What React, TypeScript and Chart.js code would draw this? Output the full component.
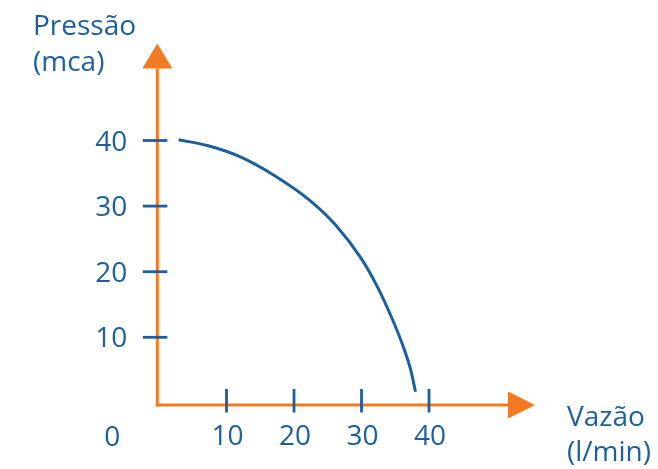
import React, { useEffect, useRef } from "react";
import { Chart, registerables } from "chart.js";

Chart.register(...registerables);

// Data
const flowValues = [2.9, 7.3, 12.3, 17.2, 22.2, 26.1, 29.9, 32.3, 34.3, 36.0, 37.3, 38.0];
const pressureValues = [40.1, 39.2, 37.4, 34.6, 31.0, 27.2, 22.1, 17.8, 13.4, 9.1, 5.0, 1.7];
const xTicks = [10, 20, 30, 40];
const yTicks = [10, 20, 30, 40];
const yTitle = ["Pressão", "(mca)"];
const xTitle = ["Vazão", "(l/min)"];
const originLabel = "0";

const BLUE = "#1d5e9d";
const ORANGE = "#f47a22";
const FONT = '"Open Sans", "Noto Sans", sans-serif';

const axesPlugin = {
  id: "customAxes",
  beforeDatasetsDraw(chart: any) {
    const ctx = chart.ctx as CanvasRenderingContext2D;
    const xs = chart.scales.x;
    const ys = chart.scales.y;
    const axisX = xs.getPixelForValue(0) - 1.7;
    const axisY = ys.getPixelForValue(0) + 2.1;
    const yTop = ys.getPixelForValue(40);
    const xRight = xs.getPixelForValue(40);

    ctx.save();
    // orange axes
    ctx.strokeStyle = ORANGE;
    ctx.fillStyle = ORANGE;
    ctx.lineWidth = 3;
    ctx.lineCap = "butt";
    ctx.beginPath();
    ctx.moveTo(axisX, axisY + 1.5);
    ctx.lineTo(axisX, yTop - 72);
    ctx.stroke();
    ctx.beginPath();
    ctx.moveTo(axisX - 1.5, axisY);
    ctx.lineTo(xRight + 80, axisY);
    ctx.stroke();
    // arrow heads
    ctx.beginPath();
    ctx.moveTo(axisX - 15, yTop - 72);
    ctx.lineTo(axisX + 15, yTop - 72);
    ctx.lineTo(axisX, yTop - 97);
    ctx.closePath();
    ctx.fill();
    ctx.beginPath();
    ctx.moveTo(xRight + 79, axisY - 13.5);
    ctx.lineTo(xRight + 79, axisY + 13.5);
    ctx.lineTo(xRight + 106, axisY);
    ctx.closePath();
    ctx.fill();

    // blue tick marks
    ctx.strokeStyle = BLUE;
    ctx.lineWidth = 2.8;
    xTicks.forEach((v) => {
      const px = xs.getPixelForValue(v);
      ctx.beginPath();
      ctx.moveTo(px, axisY - 16);
      ctx.lineTo(px, axisY + 7.5);
      ctx.stroke();
    });
    yTicks.forEach((v) => {
      const py = ys.getPixelForValue(v);
      ctx.beginPath();
      ctx.moveTo(axisX - 14.5, py);
      ctx.lineTo(axisX + 10, py);
      ctx.stroke();
    });

    // labels
    ctx.fillStyle = BLUE;
    ctx.font = `28px ${FONT}`;
    ctx.textBaseline = "alphabetic";
    ctx.textAlign = "center";
    xTicks.forEach((v) => {
      ctx.fillText(String(v), xs.getPixelForValue(v) + 1, axisY + 40);
    });
    ctx.fillText(originLabel, axisX - 45, axisY + 41);
    ctx.textAlign = "right";
    yTicks.forEach((v) => {
      ctx.fillText(String(v), axisX - 30, ys.getPixelForValue(v) + 10);
    });
    ctx.textAlign = "left";
    ctx.fillText(yTitle[0], 33, 35);
    ctx.fillText(yTitle[1], 33, 71);
    ctx.fillText(xTitle[0], 567, 426);
    ctx.fillText(xTitle[1], 567, 461);
    ctx.restore();
  },
};

export default function App() {
  const canvasRef = useRef<HTMLCanvasElement | null>(null);

  useEffect(() => {
    if (!canvasRef.current) return;
    const chart = new Chart(canvasRef.current, {
      type: "scatter",
      data: {
        datasets: [
          {
            data: flowValues.map((x, i) => ({ x, y: pressureValues[i] })),
            showLine: true,
            borderColor: BLUE,
            borderWidth: 3,
            pointRadius: 0,
            pointHoverRadius: 0,
            cubicInterpolationMode: "monotone",
            fill: false,
            clip: false as any,
          } as any,
        ],
      },
      options: {
        animation: false,
        responsive: false,
        maintainAspectRatio: false,
        events: [],
        layout: {
          padding: { left: 159, right: 229, top: 140.5, bottom: 66.1 },
        },
        plugins: {
          legend: { display: false },
          tooltip: { enabled: false },
          title: { display: false },
        },
        scales: {
          x: { type: "linear", min: 0, max: 40, display: false },
          y: { type: "linear", min: 0, max: 40, display: false },
        },
      },
      plugins: [axesPlugin],
    });
    return () => chart.destroy();
  }, []);

  return (
    <div style={{ position: "absolute", left: 0, top: 0, width: 658, height: 469, background: "#fff" }}>
      <canvas ref={canvasRef} width={658} height={469} style={{ display: "block" }} />
    </div>
  );
}
